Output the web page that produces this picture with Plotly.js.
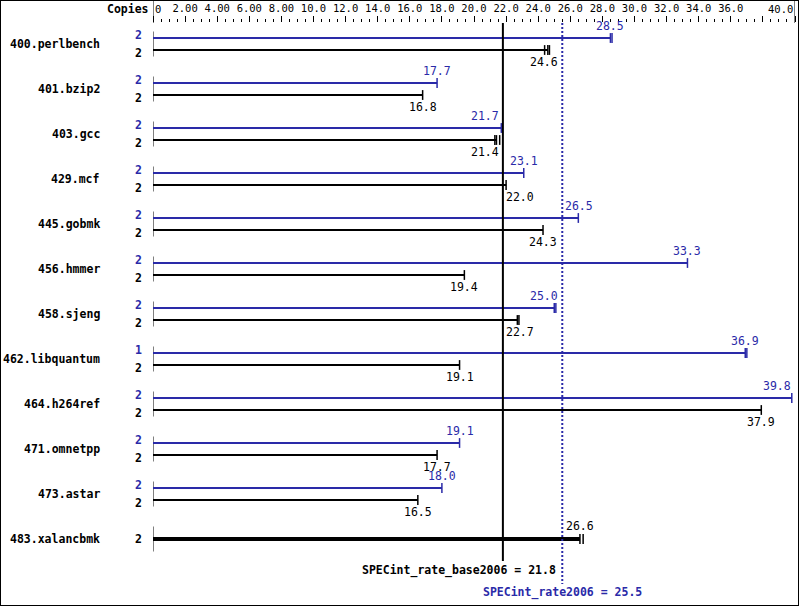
<!DOCTYPE html>
<html><head><meta charset="utf-8">
<script src="https://cdn.plot.ly/plotly-3.0.1.min.js"></script>
<style>
html,body{margin:0;padding:0;background:#fff}
#chart{width:797px;height:604px;border:1px solid #000}
</style>
</head><body><div id="chart"></div>
<script>
// ---------------- data ----------------
const benchmarks = ['400.perlbench','401.bzip2','403.gcc','429.mcf','445.gobmk','456.hmmer',
  '458.sjeng','462.libquantum','464.h264ref','471.omnetpp','473.astar','483.xalancbmk'];
const peakRatio  = [28.5, 17.7, 21.7, 23.1, 26.5, 33.3, 25.0, 36.9, 39.8, 19.1, 18.0, null];
const baseRatio  = [24.6, 16.8, 21.4, 22.0, 24.3, 19.4, 22.7, 19.1, 37.9, 17.7, 16.5, 26.6];
const peakCopies = [2, 2, 2, 2, 2, 2, 2, 1, 2, 2, 2, null];
const baseCopies = [2, 2, 2, 2, 2, 2, 2, 2, 2, 2, 2, 2];
// other run results shown as extra ticks near the bar end (estimated)
const peakOtherRuns = [[28.6], [], [], [], [], [], [25.1], [37.0], [], [], [], []];
const baseOtherRuns = [[24.4, 24.7], [], [21.3, 21.6], [], [], [], [22.8], [], [], [], [], [26.8]];
const baseMean = 21.8;
const peakMean = 25.5;
const baseMeanLabel = 'SPECint_rate_base2006 = 21.8';
const peakMeanLabel = 'SPECint_rate2006 = 25.5';
const tickValues = [0,2,4,6,8,10,12,14,16,18,20,22,24,26,28,30,32,34,36,38,40];
const tickLabels = ['','2.00','4.00','6.00','8.00','10.0','12.0','14.0','16.0','18.0','20.0',
  '22.0','24.0','26.0','28.0','30.0','32.0','34.0','36.0','',''];
const firstTickLabel = '0';
const lastTickLabel = '40.0';
const axisMax = 40;

// ---------------- layout constants ----------------
const BLUE = '#2a2aa8';
const FONT = 'DejaVu Sans Mono';
const FS = 11.5;
const TFS = 10.5;
const plotW = 642;
const PX = plotW / axisMax;          // px per unit
const ROW = 45;                      // px per benchmark row
const rowTopPx = 21;                 // px from plot top to first row centre
const plotH = 582;
const yTop = -rowTopPx / ROW;
const yBot = (plotH - rowTopPx) / ROW;
const off = 6 / ROW;                 // peak/base offset from row centre
const pxY = p => (p - rowTopPx) / ROW; // plot px from top -> y value

const peakX = [], peakY = [], baseX = [], baseY = [], combX = [], combY = [];
const capPX = [], capPY = [], capBX = [], capBY = [];
const startX = [], startY = [];
const ann = [];

function valueLabel(v, txt, y, yshift, color) {
  const c = v * PX, hw = txt.length * 7 / 2;
  let a = {x: v, xanchor: 'center', xshift: 0};
  for (const m of [baseMean, peakMean]) {
    const L = m * PX;
    if (c - hw < L + 3 && c + hw > L - 3) {
      a = c < L ? {x: m, xanchor: 'right', xshift: -2} : {x: m, xanchor: 'left', xshift: 1};
      break;
    }
  }
  if (c + hw > plotW) a = {x: v, xanchor: 'right', xshift: 1};
  ann.push(Object.assign(a, {y: y, yref: 'y', xref: 'x', yanchor: 'middle', yshift: yshift,
    text: txt, showarrow: false, font: {family: FONT, size: FS, color: color}}));
}

benchmarks.forEach((name, i) => {
  startX.push(0, 0, null); startY.push(i - 12.5 / ROW, i + 12.5 / ROW, null);
  ann.push({x: 0, xref: 'x', xshift: -51, xanchor: 'right', y: i, yref: 'y', yanchor: 'middle',
    text: '<b>' + name + '</b>', showarrow: false, font: {family: FONT, size: FS, color: '#000'}});
  if (peakRatio[i] == null) {
    const v = baseRatio[i];
    combX.push(0, v, null); combY.push(i, i, null);
    [v, ...baseOtherRuns[i]].forEach(r => { capBX.push(r); capBY.push(i); });
    valueLabel(v, v.toFixed(1), i, 13, '#000');
    ann.push({x: 0, xref: 'x', xshift: -9, xanchor: 'right', y: i, yref: 'y', yanchor: 'middle',
      text: '<b>' + baseCopies[i] + '</b>', showarrow: false, font: {family: FONT, size: FS, color: '#000'}});
    return;
  }
  const yp = i - off, yb = i + off;
  const p = peakRatio[i], b = baseRatio[i];
  peakX.push(0, p, null); peakY.push(yp, yp, null);
  baseX.push(0, b, null); baseY.push(yb, yb, null);
  [p, ...peakOtherRuns[i]].forEach(r => { capPX.push(r); capPY.push(yp); });
  [b, ...baseOtherRuns[i]].forEach(r => { capBX.push(r); capBY.push(yb); });
  valueLabel(p, p.toFixed(1), yp, 12, BLUE);
  valueLabel(b, b.toFixed(1), yb, -12, '#000');
  ann.push({x: 0, xref: 'x', xshift: -9, xanchor: 'right', y: yp, yref: 'y', yanchor: 'middle', yshift: 3,
    text: '<b>' + peakCopies[i] + '</b>', showarrow: false, font: {family: FONT, size: FS, color: BLUE}});
  ann.push({x: 0, xref: 'x', xshift: -9, xanchor: 'right', y: yb, yref: 'y', yanchor: 'middle', yshift: -3,
    text: '<b>' + baseCopies[i] + '</b>', showarrow: false, font: {family: FONT, size: FS, color: '#000'}});
});

// headers / axis end labels
const topLabelY = 1 + 14 / plotH;
ann.push({x: 0, xref: 'x', xshift: -2, xanchor: 'right', y: topLabelY, yref: 'paper', yanchor: 'middle',
  text: '<b>Copies</b>', showarrow: false, font: {family: FONT, size: FS, color: '#000'}});
ann.push({x: 0, xref: 'x', xshift: 0, xanchor: 'left', y: topLabelY, yref: 'paper', yanchor: 'middle',
  text: firstTickLabel, showarrow: false, font: {family: FONT, size: TFS, color: '#000'}});
ann.push({x: axisMax, xref: 'x', xshift: 0, xanchor: 'right', y: topLabelY, yref: 'paper', yanchor: 'middle',
  text: lastTickLabel, showarrow: false, font: {family: FONT, size: TFS, color: '#000'}});
// mean labels
ann.push({x: peakMean, xref: 'x', xshift: -4, xanchor: 'right', y: pxY(547), yref: 'y', yanchor: 'middle',
  text: '<b>' + baseMeanLabel + '</b>', showarrow: false, font: {family: FONT, size: FS, color: '#000'}});
ann.push({x: peakMean, xref: 'x', xanchor: 'center', y: pxY(569), yref: 'y', yanchor: 'middle',
  text: '<b>' + peakMeanLabel + '</b>', showarrow: false, font: {family: FONT, size: FS, color: BLUE}});

const traces = [
  {x: startX, y: startY, mode: 'lines', line: {color: '#000', width: 1}, hoverinfo: 'skip'},
  {x: peakX, y: peakY, mode: 'lines', line: {color: BLUE, width: 2}, hoverinfo: 'skip'},
  {x: baseX, y: baseY, mode: 'lines', line: {color: '#000', width: 2}, hoverinfo: 'skip'},
  {x: combX, y: combY, mode: 'lines', line: {color: '#000', width: 4}, hoverinfo: 'skip'},
  {x: capPX, y: capPY, mode: 'markers', cliponaxis: false, hoverinfo: 'skip',
   marker: {symbol: 'line-ns', size: 7, line: {color: BLUE, width: 1.5}}},
  {x: capBX, y: capBY, mode: 'markers', cliponaxis: false, hoverinfo: 'skip',
   marker: {symbol: 'line-ns', size: 7, line: {color: '#000', width: 1.5}}}
];

const shapes = [
  {type: 'line', xref: 'x', yref: 'y', x0: baseMean, x1: baseMean, y0: yTop, y1: pxY(538),
   line: {color: '#000', width: 2}, layer: 'above'},
  {type: 'line', xref: 'x', yref: 'y', x0: peakMean, x1: peakMean, y0: yTop, y1: pxY(561),
   line: {color: BLUE, width: 2, dash: '2px,2px'}, layer: 'above'},
  {type: 'line', xref: 'x', yref: 'paper', x0: 0, x1: 0, y0: 1, y1: 1 + 23 / plotH,
   line: {color: '#000', width: 1}},
  {type: 'line', xref: 'x', yref: 'paper', x0: axisMax, x1: axisMax, y0: 1, y1: 1 + 23 / plotH,
   line: {color: '#000', width: 1}}
];

const layout = {
  width: 797, height: 604,
  margin: {l: 152, r: 3, t: 22, b: 0, pad: 0},
  paper_bgcolor: '#fff', plot_bgcolor: '#fff',
  showlegend: false,
  xaxis: {side: 'top', range: [0, axisMax], showgrid: false, zeroline: false, showline: false,
    ticks: 'outside', ticklen: 6, tickwidth: 1, tickcolor: '#000',
    tickmode: 'array', tickvals: tickValues, ticktext: tickLabels,
    tickfont: {family: FONT, size: TFS, color: '#000'}, ticklabelstandoff: 0,
    minor: {tick0: 0, dtick: 0.5, ticks: 'outside', ticklen: 3, tickwidth: 1, tickcolor: '#000', showgrid: false},
    fixedrange: true},
  yaxis: {range: [yBot, yTop], showgrid: false, zeroline: false, showline: false,
    showticklabels: false, ticks: '', fixedrange: true},
  annotations: ann,
  shapes: shapes
};

Plotly.newPlot('chart', traces, layout, {staticPlot: true, displayModeBar: false});
</script>
</body></html>
